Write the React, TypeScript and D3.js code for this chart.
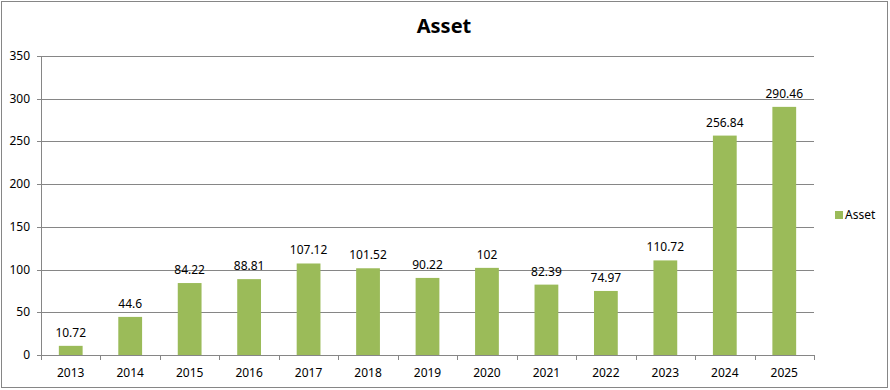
import { useEffect, useRef } from 'react';
import * as d3 from 'd3';

const years = ['2013', '2014', '2015', '2016', '2017', '2018', '2019', '2020', '2021', '2022', '2023', '2024', '2025'];
const assetValues = [10.72, 44.6, 84.22, 88.81, 107.12, 101.52, 90.22, 102, 82.39, 74.97, 110.72, 256.84, 290.46];
const yTicks = [0, 50, 100, 150, 200, 250, 300, 350];

const App = () => {
  const chart = useRef<SVGSVGElement>(null);

  useEffect(() => {
    const width = 890;
    const height = 390;
    const font = "'Noto Sans', 'Open Sans', sans-serif";

    const svg = d3.select(chart.current)
      .attr('width', width)
      .attr('height', height);
    svg.selectAll('*').remove();

    svg.append('rect')
      .attr('x', 1.5).attr('y', 1.5)
      .attr('width', 886).attr('height', 386)
      .attr('fill', '#fff')
      .attr('stroke', '#868686');

    const x = d3.scaleBand().domain(years).range([41, 814]).padding(0);
    const y = d3.scaleLinear().domain([0, 350]).range([355, 56]);

    // gridlines
    svg.selectAll('.grid')
      .data(yTicks.slice(1))
      .join('line')
      .attr('x1', 41).attr('x2', 814)
      .attr('y1', d => Math.round(y(d)) + 0.5)
      .attr('y2', d => Math.round(y(d)) + 0.5)
      .attr('stroke', '#868686');

    // bars
    const barW = x.bandwidth() * 0.4;
    svg.selectAll('.bar')
      .data(assetValues)
      .join('rect')
      .attr('x', (d, i) => x(years[i])! + (x.bandwidth() - barW) / 2)
      .attr('y', d => y(d))
      .attr('width', barW)
      .attr('height', d => y(0) - y(d))
      .attr('fill', '#9BBB59');

    // data labels
    svg.selectAll('.label')
      .data(assetValues)
      .join('text')
      .attr('x', (d, i) => x(years[i])! + x.bandwidth() / 2)
      .attr('y', d => y(d) - 9)
      .attr('text-anchor', 'middle')
      .attr('font-family', font)
      .attr('font-size', '12px')
      .attr('fill', '#000')
      .text(d => String(d));

    // y axis
    svg.append('line')
      .attr('x1', 41.5).attr('x2', 41.5)
      .attr('y1', 56).attr('y2', 355)
      .attr('stroke', '#868686');
    svg.selectAll('.ytick')
      .data(yTicks)
      .join('line')
      .attr('x1', 37).attr('x2', 41)
      .attr('y1', d => Math.round(y(d)) + 0.5)
      .attr('y2', d => Math.round(y(d)) + 0.5)
      .attr('stroke', '#868686');
    svg.selectAll('.ylabel')
      .data(yTicks)
      .join('text')
      .attr('x', 30)
      .attr('y', d => y(d) + 4)
      .attr('text-anchor', 'end')
      .attr('font-family', font)
      .attr('font-size', '12px')
      .text(d => d);

    // x axis
    svg.append('line')
      .attr('x1', 41).attr('x2', 814)
      .attr('y1', 355.5).attr('y2', 355.5)
      .attr('stroke', '#868686');
    svg.selectAll('.xtick')
      .data([...years.map(d => x(d)!), 814])
      .join('line')
      .attr('x1', d => Math.round(d) + 0.5)
      .attr('x2', d => Math.round(d) + 0.5)
      .attr('y1', 355).attr('y2', 360)
      .attr('stroke', '#868686');
    svg.selectAll('.xlabel')
      .data(years)
      .join('text')
      .attr('x', d => x(d)! + x.bandwidth() / 2)
      .attr('y', 377)
      .attr('text-anchor', 'middle')
      .attr('font-family', font)
      .attr('font-size', '12px')
      .text(d => d);

    // title
    svg.append('text')
      .attr('x', 444)
      .attr('y', 33)
      .attr('text-anchor', 'middle')
      .attr('font-family', font)
      .attr('font-size', '20px')
      .attr('font-weight', 'bold')
      .text('Asset');

    // legend
    svg.append('rect')
      .attr('x', 835).attr('y', 211)
      .attr('width', 8).attr('height', 8)
      .attr('fill', '#9BBB59');
    svg.append('text')
      .attr('x', 845)
      .attr('y', 219)
      .attr('font-family', font)
      .attr('font-size', '12px')
      .text('Asset');
  }, []);

  return (
    <svg ref={chart} style={{ position: 'absolute', left: 0, top: 0 }}></svg>
  );
};

export default App;
